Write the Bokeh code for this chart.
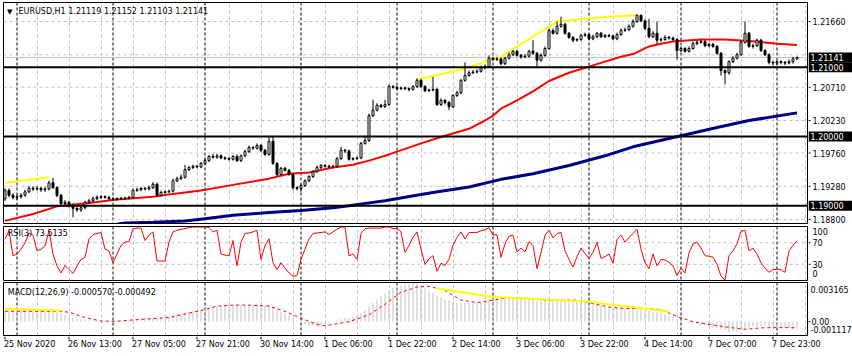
from bokeh.plotting import figure
from bokeh.layouts import column, row
from bokeh.models import (Range1d, FixedTicker, Span, Label, Grid, ColumnDataSource)
from bokeh.core.properties import value
from bokeh.embed import file_html
from bokeh.resources import INLINE

FONT = "DejaVu Sans"
FS = "8px"

# ---------------- data (EURUSD H1, bar index 0 = 25 Nov 21:00) ----------------
opens = [
    1.1910, 1.1922, 1.1915, 1.1912, 1.1913, 1.1915, 1.1920, 1.1925, 1.1924, 1.1925,
    1.1923, 1.1924, 1.1933, 1.1926, 1.1915, 1.1903, 1.1905, 1.1900, 1.1896, 1.1894,
    1.1897, 1.1905, 1.1907, 1.1910, 1.1912, 1.1913, 1.1912, 1.1910, 1.1909, 1.1910,
    1.1910, 1.1911, 1.1912, 1.1922, 1.1923, 1.1925, 1.1924, 1.1926, 1.1931, 1.1915,
    1.1919, 1.1920, 1.1921, 1.1936, 1.1939, 1.1941, 1.1952, 1.1955, 1.1957, 1.1956,
    1.1961, 1.1965, 1.1971, 1.1970, 1.1972, 1.1969, 1.1968, 1.1967, 1.1971, 1.1965,
    1.1972, 1.1978, 1.1984, 1.1983, 1.1987, 1.1980, 1.1974, 1.1993, 1.1961, 1.1945,
    1.1954, 1.1951, 1.1945, 1.1926, 1.1925, 1.1929, 1.1936, 1.1942, 1.1949, 1.1955,
    1.1958, 1.1957, 1.1956, 1.1957, 1.1968, 1.1980, 1.1979, 1.1967, 1.1968, 1.1969,
    1.1990, 1.1994, 1.2030, 1.2038, 1.2045, 1.2043, 1.2046, 1.2072, 1.2071, 1.2069,
    1.2070, 1.2069, 1.2068, 1.2072, 1.2081, 1.2072, 1.2066, 1.2067, 1.2068, 1.2046,
    1.2052, 1.2049, 1.2043, 1.2059, 1.2063, 1.2081, 1.2088, 1.2092, 1.2093, 1.2094,
    1.2099, 1.2101, 1.2113, 1.2111, 1.2112, 1.2105, 1.2113, 1.2118, 1.2123, 1.2117,
    1.2115, 1.2116, 1.2123, 1.2120, 1.2110, 1.2117, 1.2127, 1.2153, 1.2149, 1.2159,
    1.2162, 1.2149, 1.2143, 1.2139, 1.2140, 1.2146, 1.2147, 1.2141, 1.2144, 1.2149,
    1.2144, 1.2146, 1.2145, 1.2141, 1.2147, 1.2153, 1.2154, 1.2159, 1.2166, 1.2175,
    1.2167, 1.2156, 1.2144, 1.2149, 1.2139, 1.2140, 1.2143, 1.2142, 1.2140, 1.2124,
    1.2127, 1.2123, 1.2127, 1.2134, 1.2136, 1.2137, 1.2131, 1.2133, 1.2130, 1.2120,
    1.2095, 1.2092, 1.2108, 1.2113, 1.2118, 1.2136, 1.2149, 1.2130, 1.2131, 1.2139,
    1.2124, 1.2118, 1.2107, 1.2106, 1.2108, 1.2107, 1.2106, 1.2108, 1.21119,
]
closes = [
    1.1922, 1.1915, 1.1912, 1.1913, 1.1915, 1.1920, 1.1925, 1.1924, 1.1925, 1.1923,
    1.1924, 1.1933, 1.1926, 1.1915, 1.1903, 1.1905, 1.1900, 1.1896, 1.1894, 1.1897,
    1.1905, 1.1907, 1.1910, 1.1912, 1.1913, 1.1912, 1.1910, 1.1909, 1.1910, 1.1910,
    1.1911, 1.1912, 1.1922, 1.1923, 1.1925, 1.1924, 1.1926, 1.1931, 1.1915, 1.1919,
    1.1920, 1.1921, 1.1936, 1.1939, 1.1941, 1.1952, 1.1955, 1.1957, 1.1956, 1.1961,
    1.1965, 1.1971, 1.1970, 1.1972, 1.1969, 1.1968, 1.1967, 1.1971, 1.1965, 1.1972,
    1.1978, 1.1984, 1.1983, 1.1987, 1.1980, 1.1974, 1.1993, 1.1961, 1.1945, 1.1954,
    1.1951, 1.1945, 1.1926, 1.1925, 1.1929, 1.1936, 1.1942, 1.1949, 1.1955, 1.1958,
    1.1957, 1.1956, 1.1957, 1.1968, 1.1980, 1.1979, 1.1967, 1.1968, 1.1969, 1.1990,
    1.1994, 1.2030, 1.2038, 1.2045, 1.2043, 1.2046, 1.2072, 1.2071, 1.2069, 1.2070,
    1.2069, 1.2068, 1.2072, 1.2081, 1.2072, 1.2066, 1.2067, 1.2068, 1.2046, 1.2052,
    1.2049, 1.2043, 1.2059, 1.2063, 1.2081, 1.2088, 1.2092, 1.2093, 1.2094, 1.2099,
    1.2101, 1.2113, 1.2111, 1.2112, 1.2105, 1.2113, 1.2118, 1.2123, 1.2117, 1.2115,
    1.2116, 1.2123, 1.2120, 1.2110, 1.2117, 1.2127, 1.2153, 1.2149, 1.2159, 1.2162,
    1.2149, 1.2143, 1.2139, 1.2140, 1.2146, 1.2147, 1.2141, 1.2144, 1.2149, 1.2144,
    1.2146, 1.2145, 1.2141, 1.2147, 1.2153, 1.2154, 1.2159, 1.2166, 1.2175, 1.2167,
    1.2156, 1.2144, 1.2149, 1.2139, 1.2140, 1.2143, 1.2142, 1.2140, 1.2124, 1.2127,
    1.2123, 1.2127, 1.2134, 1.2136, 1.2137, 1.2131, 1.2133, 1.2130, 1.2120, 1.2095,
    1.2092, 1.2108, 1.2113, 1.2118, 1.2136, 1.2149, 1.2130, 1.2131, 1.2139, 1.2124,
    1.2118, 1.2107, 1.2106, 1.2108, 1.2107, 1.2106, 1.2108, 1.2112, 1.21141,
]
highs = [
    1.1925, 1.1925, 1.1918, 1.1916, 1.1918, 1.1923, 1.1928, 1.1928, 1.1928, 1.1927,
    1.1927, 1.1936, 1.1940, 1.1928, 1.1917, 1.1908, 1.1907, 1.1903, 1.1898, 1.1899,
    1.1907, 1.1910, 1.1913, 1.1915, 1.1915, 1.1915, 1.1914, 1.1912, 1.1912, 1.1913,
    1.1913, 1.1914, 1.1925, 1.1926, 1.1927, 1.1927, 1.1929, 1.1934, 1.1933, 1.1922,
    1.1922, 1.1923, 1.1939, 1.1942, 1.1945, 1.1959, 1.1957, 1.1959, 1.1959, 1.1963,
    1.1968, 1.1973, 1.1975, 1.1975, 1.1974, 1.1971, 1.1970, 1.1973, 1.1974, 1.1974,
    1.1981, 1.1987, 1.1986, 1.1990, 1.1989, 1.1982, 1.2001, 1.2001, 1.1963, 1.1956,
    1.1956, 1.1953, 1.1947, 1.1928, 1.1931, 1.1938, 1.1944, 1.1951, 1.1958, 1.1960,
    1.1960, 1.1959, 1.1959, 1.1970, 1.1985, 1.1982, 1.1981, 1.1970, 1.1971, 1.1992,
    1.2001, 1.2033, 1.2053, 1.2048, 1.2047, 1.2053, 1.2075, 1.2074, 1.2073, 1.2072,
    1.2072, 1.2071, 1.2074, 1.2084, 1.2083, 1.2074, 1.2069, 1.2086, 1.2070, 1.2055,
    1.2054, 1.2051, 1.2061, 1.2066, 1.2083, 1.2107, 1.2095, 1.2096, 1.2097, 1.2102,
    1.2104, 1.2117, 1.2115, 1.2115, 1.2114, 1.2115, 1.2121, 1.2125, 1.2125, 1.2119,
    1.2119, 1.2125, 1.2139, 1.2122, 1.2120, 1.2130, 1.2156, 1.2156, 1.2166, 1.2173,
    1.2164, 1.2151, 1.2145, 1.2142, 1.2148, 1.2150, 1.2149, 1.2147, 1.2151, 1.2151,
    1.2148, 1.2148, 1.2147, 1.2150, 1.2156, 1.2157, 1.2162, 1.2169, 1.2176, 1.2176,
    1.2169, 1.2170, 1.2152, 1.2166, 1.2143, 1.2146, 1.2145, 1.2144, 1.2142, 1.2130,
    1.2129, 1.2130, 1.2137, 1.2139, 1.2140, 1.2139, 1.2135, 1.2135, 1.2132, 1.2122,
    1.2097, 1.2110, 1.2116, 1.2121, 1.2139, 1.2166, 1.2151, 1.2134, 1.2141, 1.2141,
    1.2126, 1.2120, 1.2109, 1.2110, 1.2110, 1.2109, 1.2111, 1.2115, 1.21152,
]
lows = [
    1.1907, 1.1912, 1.1909, 1.1908, 1.1910, 1.1913, 1.1918, 1.1921, 1.1922, 1.1920,
    1.1920, 1.1922, 1.1924, 1.1912, 1.1900, 1.1900, 1.1897, 1.1883, 1.1891, 1.1891,
    1.1895, 1.1903, 1.1905, 1.1908, 1.1910, 1.1910, 1.1908, 1.1907, 1.1907, 1.1908,
    1.1908, 1.1909, 1.1910, 1.1920, 1.1921, 1.1922, 1.1922, 1.1924, 1.1913, 1.1913,
    1.1917, 1.1918, 1.1919, 1.1934, 1.1937, 1.1939, 1.1950, 1.1953, 1.1954, 1.1954,
    1.1959, 1.1963, 1.1968, 1.1968, 1.1967, 1.1966, 1.1965, 1.1965, 1.1963, 1.1963,
    1.1970, 1.1976, 1.1981, 1.1981, 1.1977, 1.1972, 1.1972, 1.1959, 1.1942, 1.1943,
    1.1949, 1.1943, 1.1923, 1.1922, 1.1920, 1.1927, 1.1934, 1.1940, 1.1947, 1.1953,
    1.1955, 1.1954, 1.1954, 1.1955, 1.1966, 1.1976, 1.1965, 1.1965, 1.1966, 1.1967,
    1.1988, 1.1992, 1.2028, 1.2036, 1.2041, 1.2041, 1.2044, 1.2069, 1.2067, 1.2067,
    1.2067, 1.2065, 1.2066, 1.2070, 1.2070, 1.2064, 1.2064, 1.2065, 1.2044, 1.2044,
    1.2046, 1.2038, 1.2041, 1.2057, 1.2061, 1.2079, 1.2086, 1.2090, 1.2091, 1.2092,
    1.2097, 1.2099, 1.2109, 1.2109, 1.2103, 1.2103, 1.2111, 1.2116, 1.2115, 1.2112,
    1.2113, 1.2114, 1.2118, 1.2101, 1.2108, 1.2115, 1.2125, 1.2147, 1.2147, 1.2157,
    1.2147, 1.2141, 1.2136, 1.2137, 1.2138, 1.2144, 1.2139, 1.2139, 1.2142, 1.2142,
    1.2142, 1.2143, 1.2139, 1.2139, 1.2145, 1.2151, 1.2152, 1.2157, 1.2164, 1.2165,
    1.2154, 1.2142, 1.2142, 1.2133, 1.2137, 1.2138, 1.2140, 1.2138, 1.2111, 1.2122,
    1.2121, 1.2121, 1.2125, 1.2132, 1.2134, 1.2129, 1.2129, 1.2128, 1.2118, 1.2088,
    1.2075, 1.2089, 1.2106, 1.2111, 1.2116, 1.2134, 1.2128, 1.2127, 1.2129, 1.2122,
    1.2116, 1.2104, 1.2103, 1.2103, 1.2104, 1.2103, 1.2104, 1.2105, 1.21103,
]

# moving averages (read at sampled bars)
ma_red_bars = [0, 7, 13, 21, 28, 37, 42, 49, 57, 66, 71, 76, 82, 87, 91, 96, 100, 104, 110,
               116, 120, 122, 124, 128, 132, 136, 141, 145, 150, 154, 157, 161, 164, 167,
               174, 180, 186, 193, 198]
ma_red_vals = [1.1878, 1.1888, 1.1899, 1.1904, 1.1909, 1.1913, 1.1917, 1.1922, 1.1930, 1.1939,
               1.1946, 1.1948, 1.1955, 1.1959, 1.1965, 1.1974, 1.1982, 1.1990, 1.2001,
               1.2011, 1.2023, 1.2030, 1.2040, 1.2052, 1.2065, 1.2080, 1.2092, 1.2099, 1.2108,
               1.2115, 1.2119, 1.2130, 1.2134, 1.2137, 1.2140, 1.2140, 1.2138, 1.2134, 1.2132]
ma_blue_bars = [28, 30, 37, 45, 50, 57, 66, 74, 82, 86, 91, 95, 100, 107, 116, 124, 132, 141,
                150, 157, 169, 178, 186, 198]
ma_blue_vals = [1.1873, 1.1875, 1.1876, 1.1878, 1.1881, 1.1886, 1.1890, 1.1893, 1.1897, 1.1900,
                1.1904, 1.1907, 1.1912, 1.1919, 1.1927, 1.1938, 1.1946, 1.1958, 1.1972, 1.1985,
                1.2001, 1.2013, 1.2023, 1.2034]
yellow1_bars = [0, 11]
yellow1_vals = [1.1933, 1.1941]
yellow2_bars = [103, 115, 121, 124, 138, 149, 158]
yellow2_vals = [1.2082, 1.2098, 1.2110, 1.2115, 1.2166, 1.2172, 1.2175]

levels = [1.21000, 1.20000, 1.19000]
bid = 1.21141
price_ticks = [1.21660, 1.20710, 1.20230, 1.19760, 1.19280, 1.18800]
price_grid = [1.21660, 1.21180, 1.20710, 1.20230, 1.19760, 1.19280, 1.18800]

rsi = [
    77, 92, 46, 49, 58, 70, 88, 84, 55, 58,
    64, 92, 49, 27, 14, 28, 20, 13, 27, 39,
    43, 77, 85, 87, 89, 58, 55, 33, 49, 65,
    71, 72, 96, 97, 97, 74, 84, 90, 36, 36,
    36, 71, 90, 93, 95, 96, 98, 99, 99, 99,
    99, 98, 90, 93, 49, 47, 46, 74, 27, 71,
    87, 88, 90, 93, 39, 65, 77, 33, 20, 33,
    23, 14, 8, 9, 39, 58, 77, 87, 88, 89,
    90, 85, 90, 95, 99, 99, 46, 49, 39, 87,
    96, 97, 97, 97, 97, 99, 99, 96, 96, 90,
    52, 65, 80, 90, 58, 30, 40, 46, 17, 32,
    28, 39, 65, 80, 90, 77, 89, 89, 89, 92,
    94, 98, 84, 85, 43, 68, 82, 84, 53, 60,
    53, 72, 65, 22, 52, 84, 93, 79, 87, 89,
    55, 39, 25, 44, 60, 50, 41, 52, 71, 41,
    44, 49, 32, 76, 84, 71, 80, 87, 95, 58,
    33, 22, 49, 27, 39, 38, 34, 27, 9, 23,
    14, 51, 68, 71, 60, 46, 45, 43, 30, 8,
    1, 46, 55, 68, 91, 93, 55, 60, 49, 33,
    23, 15, 20, 21, 20, 15, 55, 65, 73.5135,
]
rsi_levels = [70, 30]

macd_main = [
    0.0009, 0.0009, 0.0009, 0.0009, 0.0009, 0.0009, 0.0009, 0.0009, 0.0009, 0.0009,
    0.0009, 0.0009, 0.0009, 0.0008, 0.0007, 0.0005, 0.0004, 0.0003, 0.0002, 0.0002,
    0.00015, 0.0001, 0.0001, 0.00008, 0.00005, 0.00004, 0.00003, 0.00003, 0.00004, 0.00005,
    0.00008, 0.0001, 0.0002, 0.0002, 0.00025, 0.00028, 0.0003, 0.0003, 0.00028, 0.0003,
    0.0003, 0.0004, 0.0005, 0.0006, 0.00065, 0.0007, 0.0008, 0.00085, 0.0009, 0.0010,
    0.0011, 0.00115, 0.0012, 0.0012, 0.00125, 0.0013, 0.0013, 0.0013, 0.0013, 0.0013,
    0.0013, 0.00135, 0.0014, 0.0014, 0.00135, 0.0013, 0.0013, 0.0012, 0.0010, 0.0008,
    0.0007, 0.0005, 0.0003, 0.0001, -0.0001, -0.0002, -0.0003, -0.00035, -0.0004, -0.0003,
    -0.0002, -0.0001, 0.0, 0.0001, 0.0002, 0.0003, 0.0003, 0.0004, 0.0005, 0.0007,
    0.0009, 0.0012, 0.0015, 0.0018, 0.0021, 0.0023, 0.0025, 0.0027, 0.0028, 0.0029,
    0.0030, 0.00305, 0.003165, 0.0031, 0.0029, 0.0027, 0.0025, 0.0023, 0.0021, 0.0020,
    0.0018, 0.0017, 0.0016, 0.0015, 0.0015, 0.0015, 0.0015, 0.0015, 0.0015, 0.0016,
    0.0017, 0.0018, 0.0019, 0.0020, 0.0020, 0.0020, 0.0020, 0.0020, 0.0020, 0.0019,
    0.0019, 0.0018, 0.0018, 0.0017, 0.0017, 0.0017, 0.0018, 0.0018, 0.0018, 0.0018,
    0.0018, 0.0017, 0.0017, 0.0016, 0.0016, 0.0015, 0.0014, 0.0014, 0.0013, 0.0013,
    0.0012, 0.0012, 0.0011, 0.0011, 0.0011, 0.0010, 0.0010, 0.0010, 0.0010, 0.0010,
    0.0009, 0.0009, 0.0008, 0.0008, 0.0007, 0.0006, 0.0005, 0.0004, 0.0002, 0.0001,
    0.0, -0.0001, -0.0001, -0.0002, -0.0003, -0.0003, -0.0004, -0.0005, -0.0005, -0.0006,
    -0.0007, -0.00085, -0.0008, -0.0008, -0.0007, -0.0006, -0.0005, -0.0004, -0.0004, -0.0004,
    -0.0003, -0.0004, -0.0004, -0.0005, -0.0005, -0.0005, -0.0005, -0.0006, -0.00057,
]
signal_bars = [0, 14, 16, 20, 24, 28, 32, 41, 45, 49, 53, 57, 61, 66, 70, 74, 78, 80, 82, 86,
               91, 95, 99, 103, 106, 110, 114, 118, 122, 126, 130, 135, 143, 147, 151, 155,
               160, 164, 168, 172, 176, 180, 185, 189, 193, 198]
signal_vals = [0.00084, 0.00084, 0.00076, 0.00034, 0.00005, 0.00003, 0.00014, 0.00034, 0.00062,
               0.0009, 0.00126, 0.00134, 0.00134, 0.00126, 0.00084, 0.00028, -0.00022, -0.00034,
               -0.00022, 0.0, 0.00056, 0.0014, 0.00238, 0.0028, 0.00286, 0.00252, 0.00174,
               0.00154, 0.00174, 0.00196, 0.0019, 0.00174, 0.00174, 0.00146, 0.00118, 0.00106,
               0.00106, 0.00098, 0.00042, 0.0, -0.00022, -0.00042, -0.00062, -0.0005, -0.00048,
               -0.000492]
macd_yellow1_bars = [0, 14]
macd_yellow1_vals = [0.00104, 0.00090]
macd_yellow2_bars = [108, 122, 145, 166]
macd_yellow2_vals = [0.00268, 0.00199, 0.00164, 0.00082]
macd_scale_labels = ["0.003165", "0.00", "-0.001117"]
macd_scale_pos = [0.002599, 0.0, -0.000632]

time_label_bars = [0, 16, 32, 48, 64, 80, 96, 112, 128, 144, 160, 176, 192]
time_labels = ["25 Nov 2020", "26 Nov 13:00", "27 Nov 05:00", "27 Nov 21:00", "30 Nov 14:00",
               "1 Dec 06:00", "1 Dec 22:00", "2 Dec 14:00", "3 Dec 06:00", "3 Dec 22:00",
               "4 Dec 14:00", "7 Dec 07:00", "7 Dec 23:00"]
day_start_bars = [3, 27, 50, 74, 98, 122, 146, 169, 193]
grid_bars = list(range(8, 201, 8))

# ---------------- figures ----------------
n = len(closes)
bars = list(range(n))
xr = Range1d(-0.375, 200.625)           # 4 px per hourly bar over the 804 px chart frame
xr_strip = Range1d(-0.375, 211.875)     # same scale, extended under the price scale
PANEL_W = 808
SIDE_W = 44


def bare(p):
    p.background_fill_color = "white"
    p.border_fill_color = "white"
    for g in p.grid:
        g.visible = False


def make_panel(height, yr, top, bottom):
    p = figure(width=PANEL_W, height=height, x_range=xr, y_range=yr, output_backend="svg",
               toolbar_location=None, x_axis_location=None, y_axis_location=None,
               min_border_left=3, min_border_right=1, min_border_top=top,
               min_border_bottom=bottom)
    bare(p)
    p.outline_line_color = "black"
    p.outline_line_width = 1
    p.outline_line_alpha = 1
    p.add_layout(Grid(dimension=0, ticker=FixedTicker(ticks=grid_bars),
                      grid_line_color="#C0C0C0", grid_line_dash="3 3"))
    for b in day_start_bars:
        p.add_layout(Span(location=b, dimension="height", line_color="black",
                          line_dash="3 2", line_width=1, level="underlay"))
    return p


def make_side(height, yr, top, bottom):
    s = figure(width=SIDE_W, height=height, x_range=Range1d(0, SIDE_W), y_range=yr,
               output_backend="svg", toolbar_location=None, x_axis_location=None,
               y_axis_location=None, min_border_left=0, min_border_right=0,
               min_border_top=top, min_border_bottom=bottom)
    bare(s)
    s.outline_line_color = None
    return s


def side_labels(s, ys, texts, x, ticks=True):
    if ticks:
        s.segment(x0=[0] * len(ys), y0=ys, x1=[2] * len(ys), y1=ys, line_color="black",
                  line_width=1)
    s.text(x=[x] * len(ys), y=ys, text=texts, text_font=value(FONT),
           text_font_size=value(FS), text_color="black", text_baseline="middle",
           text_align="left")


def hline(p, y, color, width, dash="solid"):
    p.add_layout(Span(location=y, dimension="width", line_color=color, line_width=width,
                      line_dash=dash, level="underlay"))


def lbl(p, x, y, text):
    p.add_layout(Label(x=x, y=y, text=text, text_font=FONT, text_font_size=FS,
                       text_color="black", text_align="left", text_baseline="middle"))


# ---- price panel ----
price_range = Range1d(1.187422, 1.219344)
p1 = make_panel(224, price_range, 2, 1)
for g in price_grid:
    hline(p1, g, "#C0C0C0", 1, "3 3")
hline(p1, bid, "#C0C0C0", 1)
for lv in levels:
    p1.add_layout(Span(location=lv, dimension="width", line_color="black", line_width=2))

src = ColumnDataSource(dict(
    x=bars, h=highs, l=lows,
    top=[max(o, c) for o, c in zip(opens, closes)],
    bot=[min(o, c) for o, c in zip(opens, closes)],
    fill=["white" if c >= o else "black" for o, c in zip(opens, closes)],
))
p1.line(ma_blue_bars, ma_blue_vals, line_color="#000080", line_width=3)
p1.line(ma_red_bars, ma_red_vals, line_color="#FF0000", line_width=2)
p1.line(yellow1_bars, yellow1_vals, line_color="#FFFF00", line_width=2)
p1.line(yellow2_bars, yellow2_vals, line_color="#FFFF00", line_width=2)
p1.segment(x0="x", y0="l", x1="x", y1="h", source=src, line_color="black", line_width=1)
p1.vbar(x="x", width=0.5, top="top", bottom="bot", source=src, fill_color="fill",
        line_color="black", line_width=1)

p1.add_layout(Label(x=0.5, y=1.218044, text="\u25BC", text_font=FONT, text_font_size="7px",
                    text_color="black", text_align="left", text_baseline="middle"))
lbl(p1, 3.375, 1.218044, "EURUSD,H1  1.21119 1.21152 1.21103 1.21141")

s1 = make_side(224, price_range, 2, 1)
side_labels(s1, price_ticks, [f"{v:.5f}" for v in price_ticks], 4)
box_vals = [bid] + levels
s1.rect(x=[SIDE_W / 2] * len(box_vals), y=box_vals, width=SIDE_W, height=10,
        height_units="screen", fill_color="black", line_color=None)
s1.text(x=[2] * len(box_vals), y=box_vals, text=[f"{v:.5f}" for v in box_vals],
        text_font=value(FONT), text_font_size=value(FS), text_color="white",
        text_baseline="middle", text_align="left")

# ---- RSI panel ----
rsi_range = Range1d(0, 100)
p2 = make_panel(57, rsi_range, 2, 1)
for lv in rsi_levels:
    hline(p2, lv, "#C0C0C0", 1, "3 3")
p2.line(bars, rsi, line_color="#FF0000", line_width=1)
lbl(p2, 0.7, 86.5, "RSI(3) 73.5135")

s2 = make_side(57, rsi_range, 2, 1)
side_labels(s2, rsi_levels, [str(v) for v in rsi_levels], 4)
side_labels(s2, [91.3, 12.4], ["100", "0"], 4, ticks=False)

# ---- MACD panel ----
macd_range = Range1d(-0.001117, 0.003165)
p3 = make_panel(55, macd_range, 1, 1)
p3.segment(x0=bars, y0=[0.0] * n, x1=bars, y1=macd_main, line_color="#C0C0C0", line_width=1)
p3.line(signal_bars, signal_vals, line_color="#FF0000", line_width=1, line_dash="3 3")
p3.line(macd_yellow1_bars, macd_yellow1_vals, line_color="#FFFF00", line_width=2)
p3.line(macd_yellow2_bars, macd_yellow2_vals, line_color="#FFFF00", line_width=2)
lbl(p3, 0.7, 0.002381, "MACD(12,26,9) -0.000570 -0.000492")

s3 = make_side(55, macd_range, 1, 1)
side_labels(s3, [0.0], ["0.00"], 3)
side_labels(s3, [macd_scale_pos[0], macd_scale_pos[2]],
            [macd_scale_labels[0], macd_scale_labels[2]], 2, ticks=False)

# ---- time axis strip (full width so the last label can run under the price scale) ----
strip = figure(width=852, height=20, x_range=xr_strip, y_range=Range1d(0, 20),
               output_backend="svg", toolbar_location=None, x_axis_location=None,
               y_axis_location=None, min_border_left=3, min_border_right=0,
               min_border_top=0, min_border_bottom=0)
bare(strip)
strip.outline_line_color = None
strip.segment(x0=time_label_bars, y0=[20] * len(time_label_bars), x1=time_label_bars,
              y1=[17] * len(time_label_bars), line_color="black", line_width=1)
strip.text(x=time_label_bars, y=[12] * len(time_label_bars), text=time_labels,
           text_font=value(FONT), text_font_size=value(FS), text_color="black",
           text_baseline="middle", text_align="left", x_offset=-1)

layout = column(
    row(p1, s1, spacing=0),
    row(p2, s2, spacing=0),
    row(p3, s3, spacing=0),
    strip,
    spacing=0,
)
open("out.html", "w").write(file_html(layout, INLINE))
